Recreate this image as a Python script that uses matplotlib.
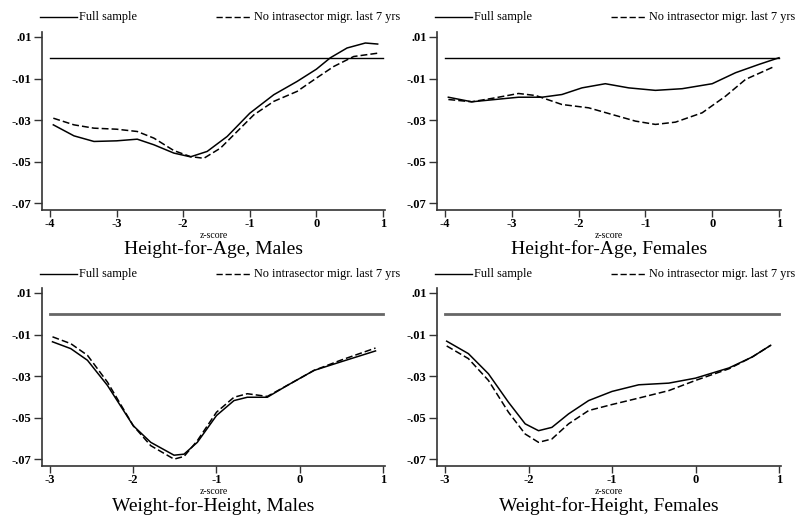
import matplotlib
matplotlib.use("Agg")
import matplotlib.pyplot as plt
from matplotlib.lines import Line2D

plt.rcParams['font.family'] = ['Liberation Serif', 'DejaVu Serif']

# ---------------- data ----------------
# Height-for-Age, Males
hm_x_full = [-3.95, -3.64, -3.34, -3.0, -2.69, -2.44, -2.14, -1.89, -1.64, -1.34, -1.0, -0.64, -0.29, 0.0, 0.21, 0.46, 0.735, 0.92]
hm_y_full = [-0.0323, -0.0376, -0.0403, -0.0400, -0.0392, -0.0419, -0.0459, -0.0477, -0.0451, -0.0379, -0.0267, -0.0178, -0.0114, -0.0055, 0.0, 0.0047, 0.0071, 0.0066]
hm_x_nomig = [-3.95, -3.64, -3.34, -3.0, -2.69, -2.44, -2.14, -1.89, -1.69, -1.44, -1.14, -0.94, -0.64, -0.29, 0.0, 0.26, 0.56, 0.92]
hm_y_nomig = [-0.0291, -0.0323, -0.0339, -0.0344, -0.0355, -0.0387, -0.0447, -0.0476, -0.0484, -0.0435, -0.0339, -0.0275, -0.0210, -0.0162, -0.0098, -0.0042, 0.0006, 0.0022]

# Height-for-Age, Females
hf_x_full = [-3.95, -3.6, -3.25, -2.9, -2.55, -2.25, -1.95, -1.6, -1.25, -0.85, -0.45, 0.0, 0.35, 0.7, 1.0]
hf_y_full = [-0.0190, -0.0212, -0.0201, -0.0190, -0.0190, -0.0177, -0.0145, -0.0125, -0.0145, -0.0157, -0.0149, -0.0125, -0.0072, -0.0032, 0.0]
hf_x_nomig = [-3.95, -3.6, -3.25, -2.9, -2.64, -2.25, -1.85, -1.5, -1.15, -0.85, -0.55, -0.15, 0.2, 0.5, 0.91]
hf_y_nomig = [-0.0201, -0.0212, -0.0193, -0.0172, -0.0182, -0.0225, -0.0241, -0.0273, -0.0305, -0.0321, -0.0310, -0.0265, -0.0185, -0.0104, -0.0045]

# Weight-for-Height, Males
wm_x_full = [-2.97, -2.75, -2.55, -2.31, -2.0, -1.79, -1.51, -1.39, -1.23, -1.0, -0.79, -0.63, -0.39, -0.15, 0.17, 0.49, 0.91]
wm_y_full = [-0.0135, -0.0168, -0.0224, -0.0345, -0.0539, -0.0619, -0.0681, -0.0676, -0.0619, -0.0490, -0.0418, -0.0402, -0.0402, -0.0345, -0.0273, -0.0232, -0.0179]
wm_x_nomig = [-2.97, -2.75, -2.55, -2.31, -2.0, -1.79, -1.51, -1.39, -1.23, -1.0, -0.79, -0.63, -0.39, -0.15, 0.17, 0.49, 0.91]
wm_y_nomig = [-0.0111, -0.0144, -0.0200, -0.0329, -0.0539, -0.0635, -0.0700, -0.0687, -0.0611, -0.0474, -0.0402, -0.0385, -0.0398, -0.0345, -0.0273, -0.0224, -0.0165]

# Weight-for-Height, Females
wf_x_full = [-2.98, -2.72, -2.48, -2.24, -2.04, -1.88, -1.72, -1.52, -1.28, -1.0, -0.68, -0.32, 0.0, 0.4, 0.68, 0.9]
wf_y_full = [-0.0132, -0.0192, -0.0289, -0.0426, -0.0530, -0.0563, -0.0547, -0.0482, -0.0418, -0.0374, -0.0342, -0.0334, -0.0310, -0.0261, -0.0208, -0.0152]
wf_x_nomig = [-2.98, -2.72, -2.48, -2.24, -2.04, -1.88, -1.72, -1.52, -1.28, -1.0, -0.68, -0.32, 0.0, 0.4, 0.68, 0.9]
wf_y_nomig = [-0.0155, -0.0216, -0.0321, -0.0474, -0.0579, -0.0619, -0.0603, -0.0530, -0.0466, -0.0437, -0.0406, -0.0370, -0.0321, -0.0265, -0.0208, -0.0152]

y_ticks = [0.01, -0.01, -0.03, -0.05, -0.07]
y_ticklabels = ['.01', '-.01', '-.03', '-.05', '-.07']
x_ticks_hfa = [-4, -3, -2, -1, 0, 1]
x_ticks_wfh = [-3, -2, -1, 0, 1]
legend_labels = ['Full sample', 'No intrasector migr. last 7 yrs']
titles = ['Height-for-Age, Males', 'Height-for-Age, Females',
          'Weight-for-Height, Males', 'Weight-for-Height, Females']

# ---------------- layout ----------------
W, H = 797, 516
fig = plt.figure(figsize=(W / 100, H / 100), dpi=100)

def add_ax(left_px, top_px, right_px, bottom_px):
    return fig.add_axes([left_px / W, 1 - bottom_px / H,
                         (right_px - left_px) / W, (bottom_px - top_px) / H])

DASH = (0, (4.5, 2))
SPINE = '#333333'

panels = [
    dict(L=42, T=32, R=385, B=210, xs=x_ticks_hfa, xlim=(-4.12, 1.03),
         full=(hm_x_full, hm_y_full), nomig=(hm_x_nomig, hm_y_nomig),
         hl=dict(color='black', lw=1.0), title=titles[0], legy=17, xly=236, tty=249),
    dict(L=437, T=32, R=781, B=210, xs=x_ticks_hfa, xlim=(-4.12, 1.03),
         full=(hf_x_full, hf_y_full), nomig=(hf_x_nomig, hf_y_nomig),
         hl=dict(color='black', lw=1.0), title=titles[1], legy=17, xly=236, tty=249),
    dict(L=42, T=288, R=385, B=466, xs=x_ticks_wfh, xlim=(-3.096, 1.024),
         full=(wm_x_full, wm_y_full), nomig=(wm_x_nomig, wm_y_nomig),
         hl=dict(color='#666666', lw=2.0), title=titles[2], legy=274, xly=491, tty=506),
    dict(L=437, T=288, R=781, B=466, xs=x_ticks_wfh, xlim=(-3.096, 1.024),
         full=(wf_x_full, wf_y_full), nomig=(wf_x_nomig, wf_y_nomig),
         hl=dict(color='#666666', lw=2.0), title=titles[3], legy=274, xly=491, tty=506),
]

for p in panels:
    ax = add_ax(p['L'], p['T'], p['R'], p['B'])
    ax.set_xlim(*p['xlim'])
    ax.set_ylim(-0.0733, 0.0124)
    ax.axhline(0, xmin=(p['xs'][0] - p['xlim'][0]) / (p['xlim'][1] - p['xlim'][0]),
               xmax=(1 - p['xlim'][0]) / (p['xlim'][1] - p['xlim'][0]), **p['hl'])
    ax.plot(*p['full'], color='black', lw=1.1)
    ax.plot(*p['nomig'], color='black', lw=1.1, linestyle=DASH)
    for s in ['top', 'right']:
        ax.spines[s].set_visible(False)
    for s in ['left', 'bottom']:
        ax.spines[s].set_color(SPINE)
        ax.spines[s].set_linewidth(1.2)
    ax.set_xticks(p['xs'])
    ax.set_xticklabels([str(v) for v in p['xs']])
    ax.set_yticks(y_ticks)
    ax.set_yticklabels(y_ticklabels)
    ax.tick_params(axis='y', direction='out', length=6, width=1.0, color=SPINE,
                   labelsize=9, pad=1.5)
    ax.tick_params(axis='x', direction='out', length=5, width=1.0, color=SPINE,
                   labelsize=9, pad=0.5)
    for lab in ax.get_xticklabels() + ax.get_yticklabels():
        lab.set_fontweight('bold')
    cx = (p['L'] + p['R']) / 2
    fig.text(cx / W, 1 - p['xly'] / H, 'z-score', ha='center', va='center', fontsize=7)
    fig.text(cx / W, 1 - p['tty'] / H, p['title'], ha='center', va='center', fontsize=14)
    # legend
    ly = 1 - p['legy'] / H
    L = p['L']
    fig.add_artist(Line2D([(L - 2) / W, (L + 35) / W], [ly, ly], color='black', lw=1.0))
    fig.text((L + 37) / W, ly, legend_labels[0], ha='left', va='center', fontsize=8.8)
    fig.add_artist(Line2D([(L + 174) / W, (L + 210) / W], [ly, ly], color='black', lw=1.0,
                          linestyle=DASH))
    fig.text((L + 212) / W, ly, legend_labels[1], ha='left', va='center', fontsize=8.8)

fig.savefig('out.png', dpi=100)
